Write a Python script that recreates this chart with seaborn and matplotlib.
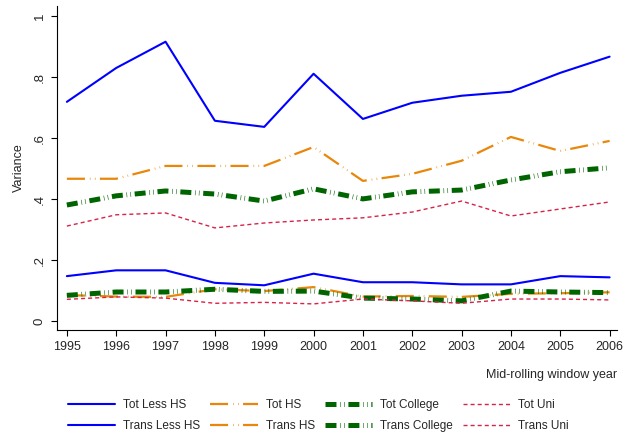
import pandas as pd
import matplotlib
matplotlib.use("Agg")
import matplotlib.pyplot as plt
import seaborn as sns

sns.set_style("ticks")
plt.rcParams["font.family"] = ["Liberation Sans", "DejaVu Sans"]
# dash patterns below are given in points
plt.rcParams["lines.scale_dashes"] = False

# -----------------------------
# Data
# -----------------------------
years = list(range(1995, 2007))

tot_less_hs = [0.719, 0.830, 0.916, 0.657, 0.637, 0.811, 0.663, 0.716, 0.739, 0.752, 0.814, 0.867]
trans_less_hs = [0.148, 0.167, 0.167, 0.126, 0.118, 0.156, 0.128, 0.128, 0.121, 0.121, 0.148, 0.144]

tot_hs = [0.467, 0.467, 0.509, 0.509, 0.509, 0.571, 0.460, 0.483, 0.526, 0.604, 0.558, 0.591]
trans_hs = [0.086, 0.081, 0.080, 0.105, 0.099, 0.112, 0.081, 0.083, 0.080, 0.090, 0.092, 0.095]

tot_college = [0.381, 0.411, 0.427, 0.417, 0.394, 0.434, 0.401, 0.424, 0.430, 0.463, 0.490, 0.503]
trans_college = [0.085, 0.096, 0.096, 0.105, 0.098, 0.099, 0.076, 0.073, 0.067, 0.099, 0.096, 0.094]

tot_uni = [0.312, 0.349, 0.355, 0.306, 0.322, 0.332, 0.339, 0.358, 0.394, 0.345, 0.368, 0.391]
trans_uni = [0.072, 0.080, 0.076, 0.059, 0.062, 0.057, 0.073, 0.067, 0.059, 0.073, 0.073, 0.070]

series = [
    ("Tot Less HS", tot_less_hs),
    ("Trans Less HS", trans_less_hs),
    ("Tot HS", tot_hs),
    ("Trans HS", trans_hs),
    ("Tot College", tot_college),
    ("Trans College", trans_college),
    ("Tot Uni", tot_uni),
    ("Trans Uni", trans_uni),
]

# styles per education group (tiny "on" segments give the pale dots)
styles = {
    "Less HS": dict(color="#0000ff", lw=1.5, linestyle="-"),
    "HS": dict(color="#e8870a", lw=1.6, linestyle=(0, (13, 3.6, 0.4, 3.2, 0.4, 3.2))),
    "College": dict(color="#006400", lw=3.6, linestyle=(0, (7.9, 2.7, 0.4, 2.4, 0.4, 2.7))),
    "Uni": dict(color="#d6234a", lw=1.0, linestyle=(0, (2.9, 2.2))),
}

# -----------------------------
# Plot
# -----------------------------
fig = plt.figure(figsize=(6.26, 4.34), dpi=100)
ax = fig.add_axes([57 / 626, 104 / 434, 560 / 626, 324 / 434])

for name, vals in series:
    group = name.split(" ", 1)[1]
    df = pd.DataFrame({"year": years, "value": vals})
    sns.lineplot(data=df, x="year", y="value", ax=ax, label=name, **styles[group])

ax.set_xlim(1994.8, 2006.15)
ax.set_ylim(-0.0285, 1.033)
ax.set_xticks(years)
ax.set_xticklabels([str(y) for y in years], fontsize=9)
ax.set_yticks([0, 0.2, 0.4, 0.6, 0.8, 1])
ax.set_yticklabels(["0", ".2", ".4", ".6", ".8", "1"], fontsize=9.5, rotation=90, va="center")
ax.tick_params(direction="out", length=4.5, width=0.8, color="black")
for s in ["top", "right"]:
    ax.spines[s].set_visible(False)
for s in ["left", "bottom"]:
    ax.spines[s].set_linewidth(0.8)
    ax.spines[s].set_color("black")

ax.set_ylabel("Variance", fontsize=9)
ax.set_xlabel("Mid-rolling window year", fontsize=9)
ax.xaxis.set_label_coords(1.0, -0.12)
ax.xaxis.label.set_ha("right")
ax.yaxis.set_label_coords(-0.057, 0.5)

handles, labels = ax.get_legend_handles_labels()
ax.legend(handles, labels, ncol=4, frameon=False, fontsize=8.5,
          loc="upper left", bbox_to_anchor=(68 / 626, 35 / 434),
          bbox_transform=fig.transFigure, borderpad=0, borderaxespad=0,
          handlelength=4.0, handletextpad=0.68, columnspacing=0.85, labelspacing=0.8)

plt.savefig("out.png", dpi=100)
